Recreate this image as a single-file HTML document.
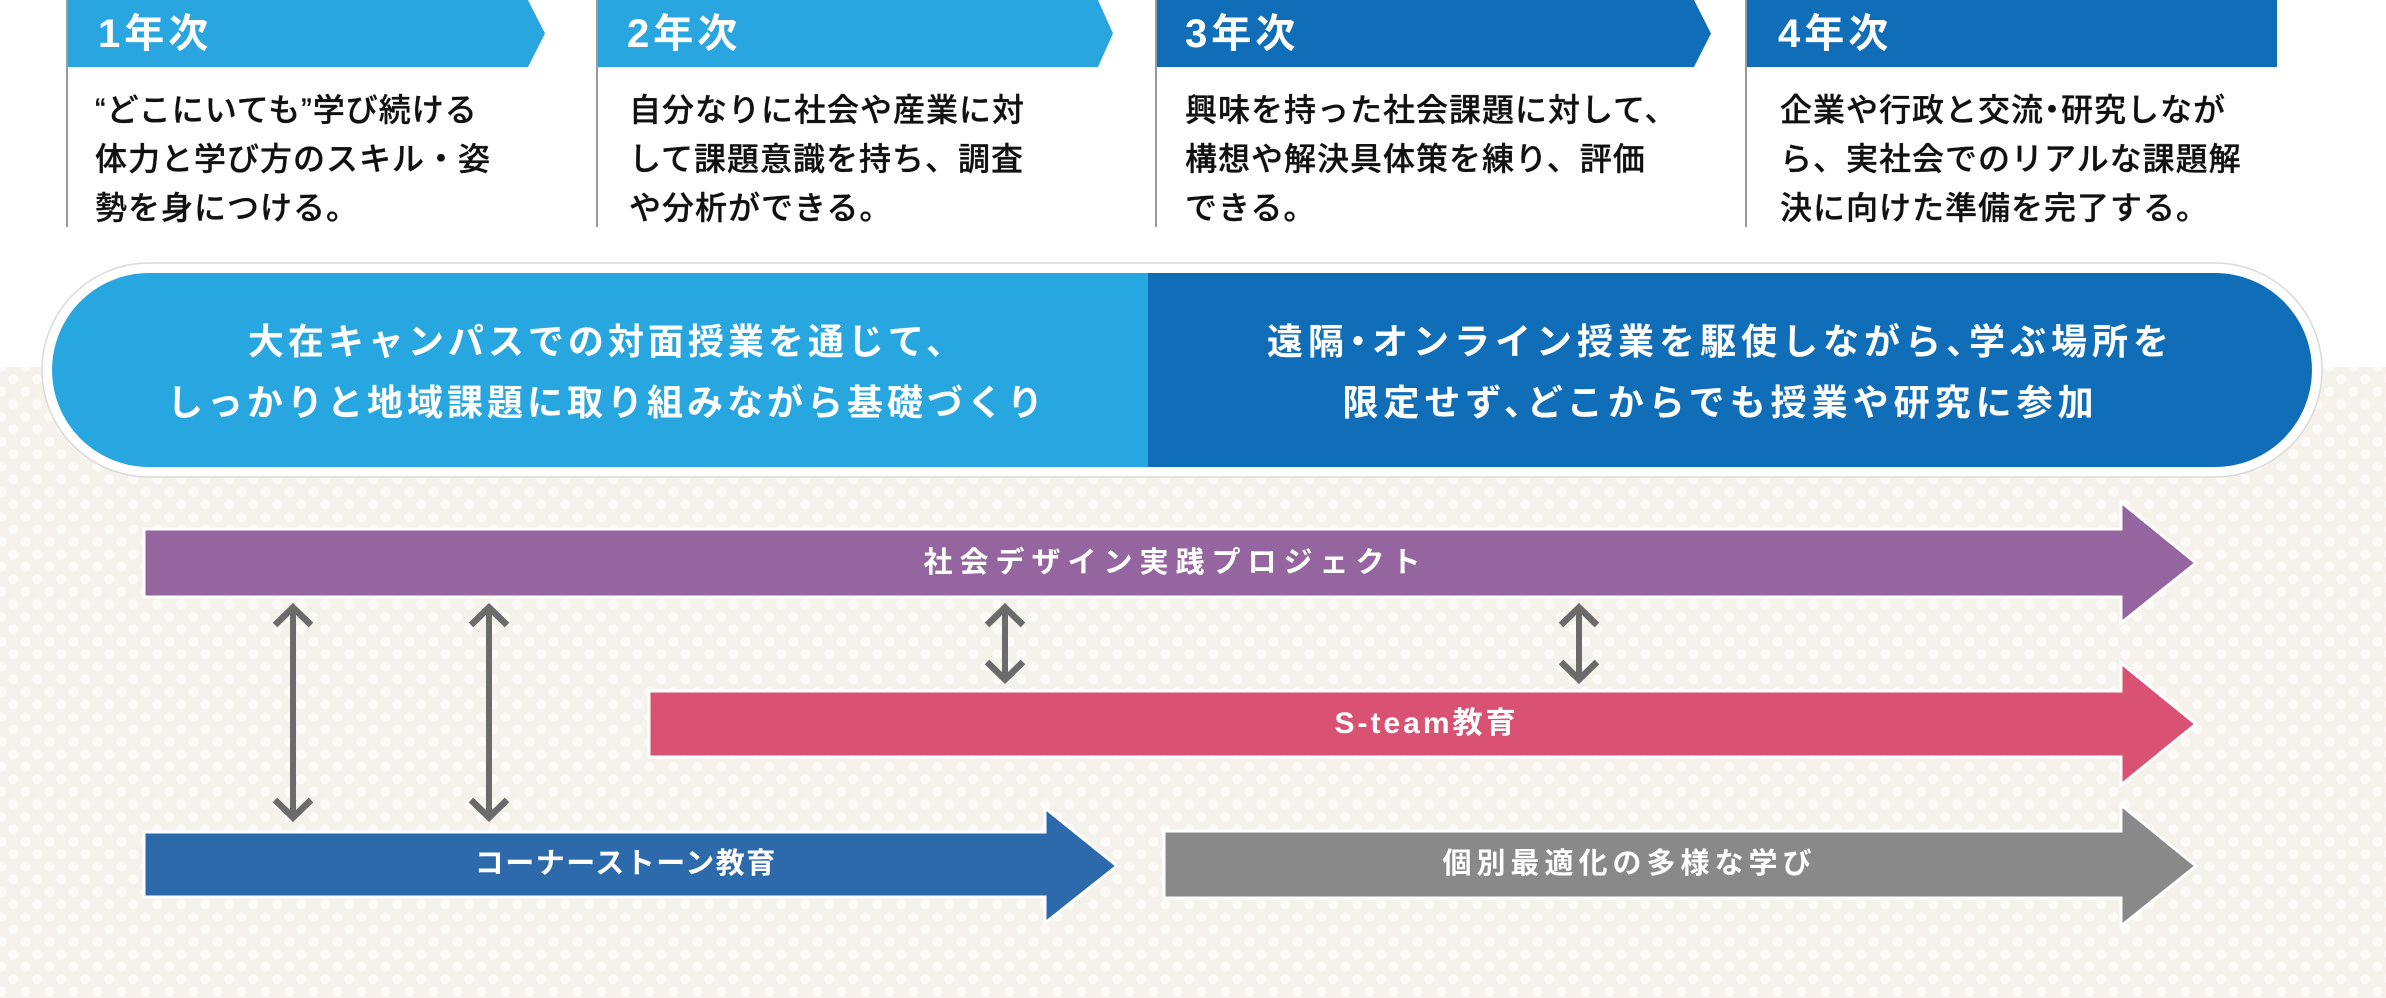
<!DOCTYPE html>
<html lang="ja">
<head>
<meta charset="utf-8">
<style>
  html,body{margin:0;padding:0;}
  body{width:2386px;height:998px;position:relative;overflow:hidden;background:#ffffff;
       font-family:"Liberation Sans","Noto Sans CJK JP",sans-serif;}
  .pat{position:absolute;left:0;top:367px;width:2386px;height:631px;
       background-color:#f5f2eb;
       background-image:
         radial-gradient(circle at center,#fcfbf8 0,#fcfbf8 4.6px,rgba(252,251,248,0) 5.4px),
         radial-gradient(circle at center,#fcfbf8 0,#fcfbf8 4.6px,rgba(252,251,248,0) 5.4px);
       background-size:24px 25px,24px 25px;
       background-position:1.3px -0.2px,-10.7px 12.3px;}
  svg{position:absolute;left:0;top:0;}
  .t{position:absolute;white-space:nowrap;}
  .hd{color:#fff;font-weight:700;font-size:40px;letter-spacing:4px;line-height:71px;top:-1px;}
  .bd{color:#111;font-weight:500;font-size:32px;letter-spacing:1px;line-height:49px;top:86px;-webkit-text-stroke:0.3px #111;}
  .mid{color:#fff;font-weight:700;font-size:36px;letter-spacing:4px;line-height:61px;top:311px;
       width:1200px;text-align:center;padding-left:4px;box-sizing:border-box;}
  .lab{color:#fff;font-weight:700;font-size:29px;line-height:40px;width:1000px;text-align:center;box-sizing:border-box;}
  .hc{margin-right:-0.5em;}
  .hd2{margin-left:-0.25em;margin-right:-0.25em;}
</style>
</head>
<body>
<div class="pat"></div>
<svg width="2386" height="998" viewBox="0 0 2386 998">
  <polygon points="68,0 528,0 545,33.5 528,67 68,67" fill="#29a6e0"/>
  <polygon points="598,0 1098,0 1113,33.5 1098,67 598,67" fill="#29a6e0"/>
  <polygon points="1157,0 1694,0 1711,33.5 1694,67 1157,67" fill="#106db7"/>
  <rect x="1747" y="0" width="530" height="67" fill="#106db7"/>
  <rect x="66" y="0" width="2" height="227" fill="#9a9a9a"/>
  <rect x="596" y="0" width="2" height="227" fill="#9a9a9a"/>
  <rect x="1155" y="0" width="2" height="227" fill="#9a9a9a"/>
  <rect x="1745" y="0" width="2" height="227" fill="#9a9a9a"/>

  <rect x="42" y="263" width="2280" height="214" rx="107" ry="107" fill="#ffffff" stroke="#d9d9d9" stroke-width="1.5"/>
  <path d="M1148 273 H149 A97 97 0 0 0 149 467 H1148 Z" fill="#27a6df"/>
  <path d="M1148 273 H2215 A97 97 0 0 1 2215 467 H1148 Z" fill="#106db7"/>

  <polygon points="144,529 2121,529 2121,502 2196,563 2121,623 2121,597 144,597" fill="#95659f" stroke="#ffffff" stroke-width="3" stroke-linejoin="miter"/>
  <polygon points="649,691 2121,691 2121,663 2196,724 2121,785 2121,757 649,757" fill="#d95173" stroke="#ffffff" stroke-width="3" stroke-linejoin="miter"/>
  <polygon points="144,832 1045,832 1045,808 1117,866 1045,923 1045,897 144,897" fill="#2d6aab" stroke="#ffffff" stroke-width="3" stroke-linejoin="miter"/>
  <polygon points="1164,831 2121,831 2121,805 2196,866 2121,926 2121,898 1164,898" fill="#898989" stroke="#ffffff" stroke-width="3" stroke-linejoin="miter"/>

  <g stroke="#6b6b6b" fill="none" stroke-linejoin="miter" stroke-miterlimit="10">
    <line x1="293" y1="607" x2="293" y2="818" stroke-width="6"/>
    <polyline points="275,625 293,607.5 311,625" stroke-width="6.5"/>
    <polyline points="275,800 293,817.5 311,800" stroke-width="6.5"/>

    <line x1="489" y1="607" x2="489" y2="818" stroke-width="6"/>
    <polyline points="471,625 489,607.5 507,625" stroke-width="6.5"/>
    <polyline points="471,800 489,817.5 507,800" stroke-width="6.5"/>

    <line x1="1005" y1="607" x2="1005" y2="680" stroke-width="6"/>
    <polyline points="987,625 1005,607.5 1023,625" stroke-width="6.5"/>
    <polyline points="987,662 1005,679.5 1023,662" stroke-width="6.5"/>

    <line x1="1579" y1="607" x2="1579" y2="680" stroke-width="6"/>
    <polyline points="1561,625 1579,607.5 1597,625" stroke-width="6.5"/>
    <polyline points="1561,662 1579,679.5 1597,662" stroke-width="6.5"/>
  </g>
</svg>

<div class="t hd" style="left:98px;">1年次</div>
<div class="t hd" style="left:627px;">2年次</div>
<div class="t hd" style="left:1185px;">3年次</div>
<div class="t hd" style="left:1778px;">4年次</div>

<div class="t bd" style="left:95px;">“どこにいても”学び続ける<br>体力と学び方のスキル・姿<br>勢を身につける。</div>
<div class="t bd" style="left:629px;">自分なりに社会や産業に対<br>して課題意識を持ち、調査<br>や分析ができる。</div>
<div class="t bd" style="left:1185px;">興味を持った社会課題に対して、<br>構想や解決具体策を練り、評価<br>できる。</div>
<div class="t bd" style="left:1780px;">企業や行政と交流<span class="hd2">・</span>研究しなが<br>ら、実社会でのリアルな課題解<br>決に向けた準備を完了する。</div>

<div class="t mid" style="left:5px;">大在キャンパスでの対面授業を通じて、<br>しっかりと地域課題に取り組みながら基礎づくり</div>
<div class="t mid" style="left:1118px;letter-spacing:5px;padding-left:5px;">遠隔<span class="hd2">・</span>オンライン授業を駆使しながら<span class="hc">、</span>学ぶ場所を<br>限定せず<span class="hc">、</span>どこからでも授業や研究に参加</div>

<div class="t lab" style="left:672px;top:543px;letter-spacing:7px;padding-left:7px;">社会デザイン実践プロジェクト</div>
<div class="t lab" style="left:925px;top:704px;font-size:30px;letter-spacing:3px;padding-left:3px;">S-team教育</div>
<div class="t lab" style="left:125px;top:844px;letter-spacing:1.5px;padding-left:1.5px;">コーナーストーン教育</div>
<div class="t lab" style="left:1127px;top:844px;letter-spacing:5px;padding-left:5px;">個別最適化の多様な学び</div>
</body>
</html>
